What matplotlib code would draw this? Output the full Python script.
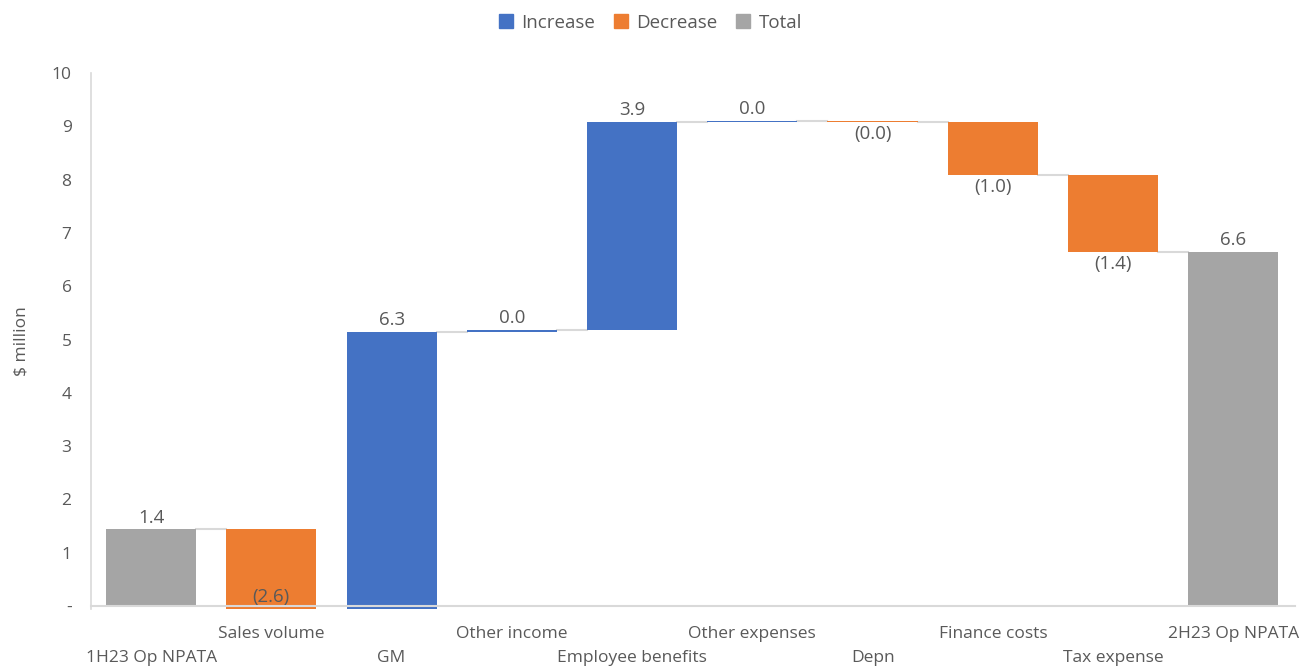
import matplotlib
matplotlib.use("Agg")
import matplotlib.pyplot as plt
from matplotlib.patches import Patch
import numpy as np

plt.rcParams['font.family'] = ['Open Sans', 'DejaVu Sans']

categories = ["1H23 Op NPATA", "Sales volume", "GM", "Other income", "Employee benefits",
              "Other expenses", "Depn", "Finance costs", "Tax expense", "2H23 Op NPATA"]
start_total = 1.44
changes = [-2.6, 6.3, 0.04, 3.9, 0.02, -0.02, -1.0, -1.44]

BLUE = "#4472C4"
ORANGE = "#ED7D31"
GRAY = "#A5A5A5"
TEXT = "#595959"
LINE = "#D9D9D9"

# build waterfall
levels = [start_total]
for c in changes:
    levels.append(levels[-1] + c)
end_total = levels[-1]

bottoms, heights, colors, labels, label_pos = [], [], [], [], []
bottoms.append(0); heights.append(start_total); colors.append(GRAY)
labels.append(f"{start_total:.1f}"); label_pos.append(("top", start_total))
for i, c in enumerate(changes):
    prev = levels[i]
    cur = levels[i + 1]
    bottoms.append(min(prev, cur)); heights.append(abs(c))
    if c >= 0:
        colors.append(BLUE); labels.append(f"{abs(c):.1f}"); label_pos.append(("top", cur))
    else:
        colors.append(ORANGE); labels.append(f"({abs(c):.1f})"); label_pos.append(("bottom", cur))
bottoms.append(0); heights.append(end_total); colors.append(GRAY)
labels.append(f"{end_total:.1f}"); label_pos.append(("top", end_total))

fig = plt.figure(figsize=(13.01, 6.68), dpi=100)
ax = fig.add_axes([91/1301, 1 - 608.7/668, (1295-91)/1301, (608.7-73)/668])

x = np.arange(len(categories))
width = 0.75
ymin = -0.05
ax.bar(x, heights, bottom=bottoms, width=width, color=colors, zorder=3)

# connectors
for i in range(len(categories) - 1):
    lvl = levels[i]
    ax.plot([x[i] + width/2, x[i+1] - width/2], [lvl, lvl], color=LINE, lw=1.5, zorder=2)

# value labels
LFS = 13.5
for i, (kind, val) in enumerate(label_pos):
    if kind == "top":
        ax.annotate(labels[i], (x[i], val), xytext=(0, 2), textcoords="offset points",
                    ha="center", va="bottom", fontsize=LFS, color=TEXT)
    else:
        if val < 0:
            ax.annotate(labels[i], (x[i], 0), xytext=(0, 6.5), textcoords="offset points",
                        ha="center", va="center", fontsize=LFS, color=TEXT, zorder=5)
        else:
            ax.annotate(labels[i], (x[i], val), xytext=(0, -2), textcoords="offset points",
                        ha="center", va="top", fontsize=LFS, color=TEXT)

ax.set_xlim(-0.5, len(categories) - 0.5 + 0.013)
ax.set_ylim(ymin, 10)
ax.set_yticks(range(0, 11))
ax.set_yticklabels(["-"] + [str(v) for v in range(1, 11)])
ax.tick_params(axis="y", length=0, pad=14, labelsize=12.5, labelcolor=TEXT)

# staggered category labels
ax.set_xticks(x)
ax.set_xticklabels([""] * len(categories))
ax.tick_params(axis="x", length=0)
for i, c in enumerate(categories):
    off = -35.5 if i % 2 == 0 else -18.2
    ax.annotate(c, (x[i], 0), xycoords=("data", "axes fraction"), xytext=(0, off),
                textcoords="offset points", ha="center", va="center",
                fontsize=12.5, color=TEXT, annotation_clip=False)

for s in ["top", "right"]:
    ax.spines[s].set_visible(False)
ax.spines["left"].set_color(LINE)
ax.spines["left"].set_linewidth(1.2)
ax.spines["bottom"].set_color(LINE)
ax.spines["bottom"].set_linewidth(1.5)
ax.spines["bottom"].set_position(("data", 0))
ax.spines["bottom"].set_zorder(4)

ax.set_ylabel(r"\$ million", fontsize=12.5, color=TEXT, labelpad=16)

handles = [Patch(color=BLUE, label="Increase"), Patch(color=ORANGE, label="Decrease"),
           Patch(color=GRAY, label="Total")]
fig.legend(handles=handles, loc="upper center", bbox_to_anchor=(0.5, 1.005), ncol=3,
           frameon=False, fontsize=13.5, handlelength=0.75, handleheight=0.75,
           handletextpad=0.45, columnspacing=1.0, labelcolor=TEXT)

fig.savefig("out.png", dpi=100)
